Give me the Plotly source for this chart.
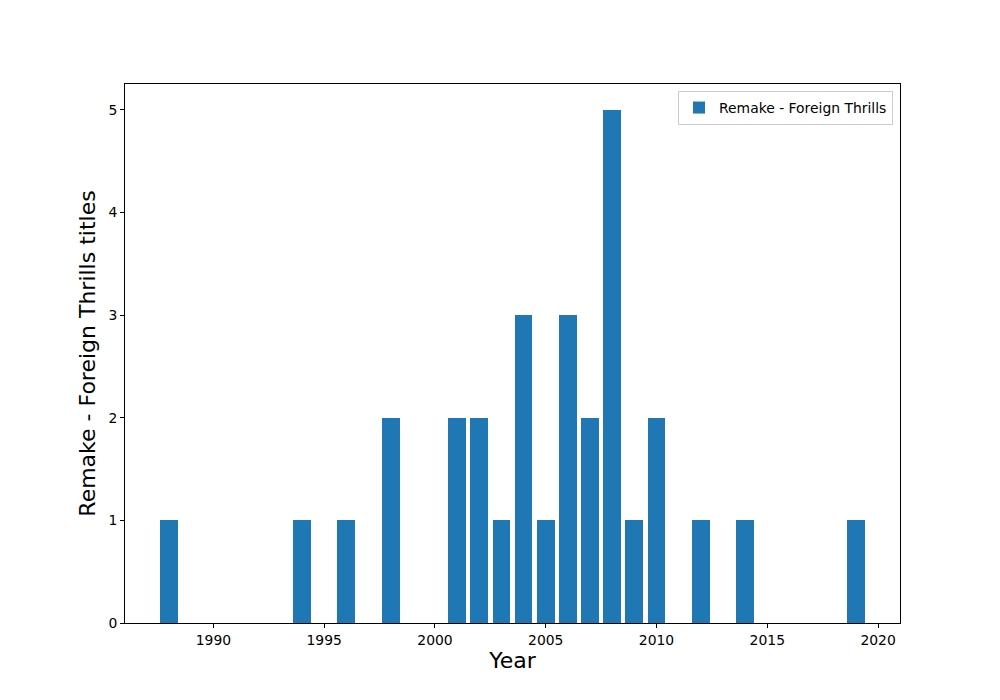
import plotly.graph_objects as go

years = [1988, 1994, 1996, 1998, 2001, 2002, 2003, 2004, 2005, 2006, 2007, 2008, 2009, 2010, 2012, 2014, 2019]
counts = [1, 1, 1, 2, 2, 2, 1, 3, 1, 3, 2, 5, 1, 2, 1, 1, 1]
x_ticks = [1990, 1995, 2000, 2005, 2010, 2015, 2020]
y_ticks = [0, 1, 2, 3, 4, 5]
series_name = "Remake - Foreign Thrills"

fig = go.Figure()
fig.add_trace(go.Bar(x=years, y=counts, width=0.8, name=series_name,
                     marker=dict(color="#1f77b4", line=dict(width=0)),
                     showlegend=True))

axis_common = dict(showline=True, mirror=True, linecolor="black", linewidth=1,
                   ticks="outside", ticklen=4, tickcolor="black", showgrid=False,
                   zeroline=False, tickfont=dict(family="DejaVu Sans", size=13.9, color="black"))

fig.update_layout(
    width=1000, height=700,
    margin=dict(l=117, r=108, t=76, b=85),
    paper_bgcolor="white", plot_bgcolor="white",
    font=dict(family="DejaVu Sans", color="black"),
    xaxis=dict(range=[1986.01, 2020.99], tickvals=x_ticks,
               title=dict(text="Year", font=dict(size=22), standoff=5), **axis_common),
    yaxis=dict(range=[0, 5.25], tickvals=y_ticks,
               title=dict(text="Remake - Foreign Thrills titles", font=dict(size=22), standoff=6),
               **axis_common),
    legend=dict(x=0.991, y=0.987, xanchor="right", yanchor="top",
                bordercolor="#cccccc", borderwidth=1, bgcolor="white",
                font=dict(size=13.9), itemwidth=30, tracegroupgap=0),
    bargap=0,
)

fig.write_html("out.html")
